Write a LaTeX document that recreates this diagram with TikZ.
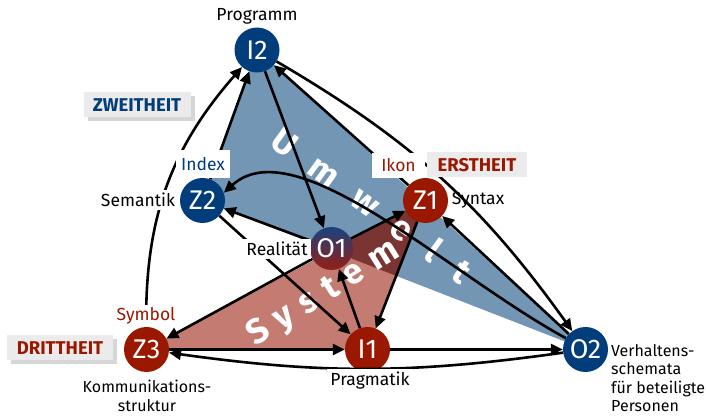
\documentclass[tikz,border=0pt]{standalone}
\usepackage{fontspec}
\setmainfont{Fira Sans}
\usetikzlibrary{arrows.meta,shadows}
\definecolor{nblue}{HTML}{003D7A}
\definecolor{nred}{HTML}{9B1800}
\definecolor{umwfill}{HTML}{7296B4}
\definecolor{sysfill}{HTML}{C47C72}
\definecolor{ovlfill}{HTML}{7A3432}
\definecolor{boxgray}{HTML}{EBEBEB}
\definecolor{o1top}{HTML}{1A4180}
\definecolor{o1bot}{HTML}{961E14}
\pgfdeclarelayer{bg}
\pgfsetlayers{bg,main}
\begin{document}
\begin{tikzpicture}[x=1pt,y=1pt,
  knot/.style={circle,minimum size=45pt,inner sep=0pt,text=white,font=\fontsize{27}{27}\selectfont},
  bknot/.style={knot,fill=nblue},
  rknot/.style={knot,fill=nred},
  arr/.style={line width=2.6pt,-{Triangle[length=12pt,width=11pt]}},
  lab/.style={font=\fontsize{17.5}{20}\selectfont,inner sep=2pt},
  blocklab/.style={font=\fontsize{16}{18.5}\selectfont,inner sep=0pt},
  wlab/.style={lab,fill=white,inner sep=3pt},
  box/.style={fill=boxgray,font=\bfseries\fontsize{18.5}{18.5}\selectfont,inner xsep=4pt,minimum height=25pt},
  shbox/.style={box,drop shadow={shadow xshift=4pt,shadow yshift=-4pt,fill=black!32}},
  big/.style={text=white,font=\bfseries\fontsize{35}{35}\selectfont}]
\useasboundingbox (0,0) rectangle (706,417);
% nodes
\node[bknot] (I2) at (257,367) {I2};
\node[bknot] (Z2) at (202.5,216.5) {Z2};
\node[rknot] (Z1) at (425.5,216.5) {Z1};
\node[knot,minimum size=43pt,top color=o1top,bottom color=o1bot] (O1) at (331.5,168.5) {O1};
\node[rknot] (Z3) at (146.5,67.5) {Z3};
\node[rknot] (I1) at (367.5,67.5) {I1};
\node[bknot] (O2) at (585.5,67.5) {O2};
% areas
\begin{pgfonlayer}{bg}
\fill[umwfill] (I2.center) -- (Z2.center) -- (O2.center) -- cycle;
\fill[sysfill] (Z3.center) -- (I1.center) -- (Z1.center) -- cycle;
\begin{scope}
\clip (I2.center) -- (Z2.center) -- (O2.center) -- cycle;
\fill[ovlfill] (Z3.center) -- (I1.center) -- (Z1.center) -- cycle;
\end{scope}
\node[big,rotate=-36,inner sep=0pt] (umwtext) at (372,212) {U\hspace{23pt}m\hspace{23pt}w\hspace{23pt}e\hspace{23pt}l\hspace{23pt}t};
\node[big,rotate=32,inner sep=0pt] (systext) at (324,123) {S\hspace{11pt}y\hspace{11pt}s\hspace{11pt}t\hspace{11pt}e\hspace{11pt}m};
\end{pgfonlayer}
% connectors
\draw[arr] (Z3) to[bend left=21] (I2);
\draw[arr] (Z2) -- (I2);
\draw[arr] (I2) -- (O1);
\draw[arr] (Z1) -- (I2);
\draw[arr] (O2) -- (Z1);
\draw[arr] (I2) to[bend left=12] (O2);
\draw[arr] (O2.150) .. controls +(-116,63) and +(72,65) .. (Z2.20);
\draw[arr] (O1) -- (Z2);
\draw[arr] (Z2) -- (I1);
\draw[arr] (O1) -- (Z3);
\draw[arr] (O1) -- (Z1);
\draw[arr] (I1) -- (O1);
\draw[arr] (Z1) -- (I1);
\draw[arr] (Z3) -- (I1);
\draw[arr] (I1) -- (O2);
\draw[arr] (O2) to[bend left=8] (Z3);
% labels
\node[lab] (lprog) at (257,401) {Programm};
\node[shbox,text=nblue,minimum width=107pt] (lzwei) at (137,312) {ZWEITHEIT};
\node[wlab,text=nblue,minimum width=54pt,minimum height=28pt] (lindex) at (203,253) {Index};
\node[wlab] (lsem) at (138,217) {Semantik};
\node[wlab] (lreal) at (277,168) {Realität};
\node[wlab,text=nred,minimum width=53pt,minimum height=25pt] (likon) at (398.5,251.5) {Ikon};
\node[box,text=nred,minimum width=100pt] (lerst) at (477,252) {ERSTHEIT};
\node[lab] (lsyn) at (478,217) {Syntax};
\node[wlab,text=nred] (lsym) at (146,101) {Symbol};
\node[shbox,text=nred,minimum width=106pt] (ldritt) at (60,69) {DRITTHEIT};
\node[blocklab,align=center] (lkom) at (147,21) {Kommunikations-\\struktur};
\node[wlab] (lprag) at (370,36) {Pragmatik};
\node[blocklab,align=left,anchor=west] (lverh) at (611,39) {Verhaltens-\\schemata\\für beteiligte\\Personen};
\end{tikzpicture}
\end{document}
